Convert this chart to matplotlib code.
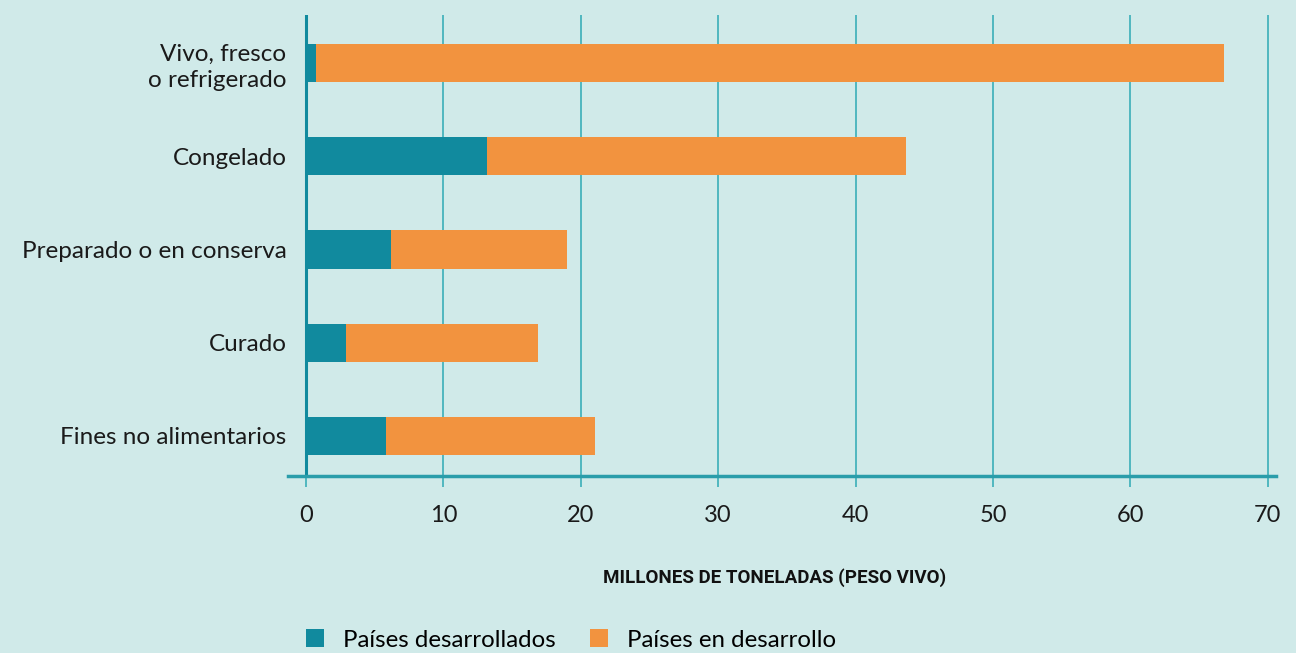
import matplotlib
matplotlib.use("Agg")
import matplotlib.pyplot as plt
from matplotlib.patches import Patch

categories = ["Vivo, fresco\no refrigerado", "Congelado", "Preparado o en conserva",
              "Curado", "Fines no alimentarios"]
desarrollados = [0.7, 13.2, 6.2, 2.9, 5.8]
en_desarrollo = [66.1, 30.5, 12.8, 14.0, 15.2]
xticks = [0, 10, 20, 30, 40, 50, 60, 70]

BG = "#D0EAE9"
TEAL = "#118A9E"
ORANGE = "#F2933F"
GRID = "#3AAFB8"

plt.rcParams['font.family'] = ['Lato', 'DejaVu Sans']

fig = plt.figure(figsize=(12.96, 6.53), dpi=100, facecolor=BG)
ax = fig.add_axes([288/1296, 1-476/653, (1276-288)/1296, (476-15)/653])
ax.set_facecolor(BG)

y = list(range(len(categories)))
ax.barh(y, desarrollados, height=0.41, color=TEAL, zorder=3)
ax.barh(y, en_desarrollo, left=desarrollados, height=0.41, color=ORANGE, zorder=3)

ax.set_xlim(-1.31, 70.6)
ax.set_ylim(len(categories) - 1 + 0.43, -0.514)
ax.set_yticks(y)
ax.set_yticklabels(categories, fontsize=17.5, color="#1a1a1a", linespacing=1.32)
ax.set_xticks(xticks)
ax.set_xticklabels([str(t) for t in xticks], fontsize=17, color="#1a1a1a")
ax.tick_params(axis='y', length=0, pad=1)
ax.tick_params(axis='x', length=8, width=1.2, color=GRID, pad=13)

for t in xticks:
    ax.axvline(t, color=("#118A9E" if t == 0 else GRID), lw=(2.2 if t == 0 else 1.2), zorder=1)

for s in ["top", "right", "left"]:
    ax.spines[s].set_visible(False)
ax.spines["bottom"].set_color("#2A9DAA")
ax.spines["bottom"].set_linewidth(2.5)

fig.text(775/1296, 1-578/653, "MILLONES DE TONELADAS (PESO VIVO)", ha="center", va="center",
         fontsize=13.5, fontweight="bold", color="#111111", family=["Roboto", "DejaVu Sans"],
         stretch="condensed")

handles = [Patch(facecolor=TEAL, label="Países desarrollados"),
           Patch(facecolor=ORANGE, label="Países en desarrollo")]
fig.legend(handles=handles, loc="center left", bbox_to_anchor=(306/1296, 1-640/653), ncol=2,
           frameon=False, fontsize=17.3, handlelength=0.75, handleheight=0.75, handletextpad=0.8,
           columnspacing=1.4, borderaxespad=0, borderpad=0)

fig.savefig("out.png", dpi=100, facecolor=BG)
